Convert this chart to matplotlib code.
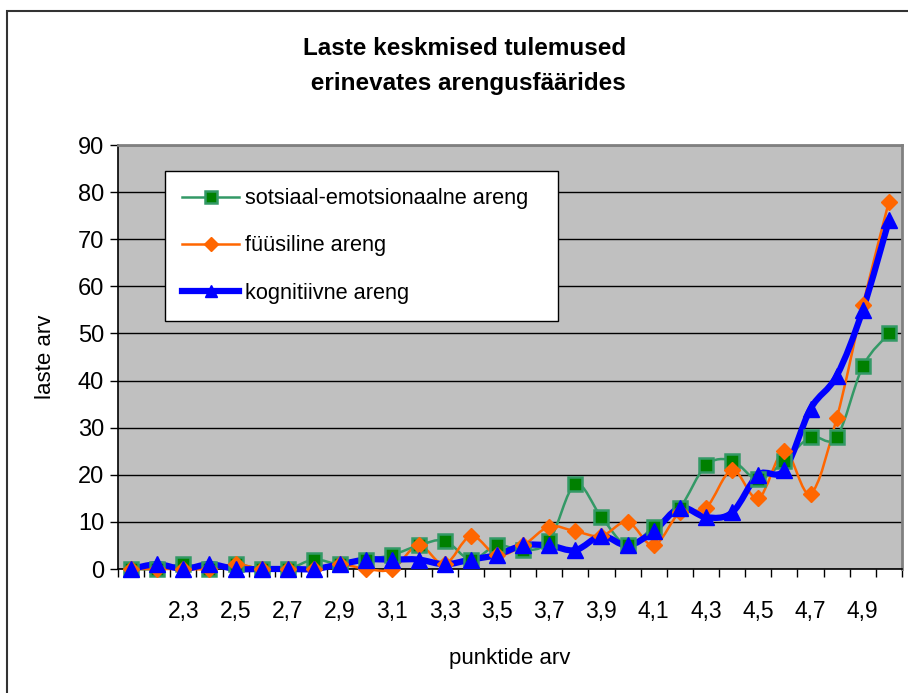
import matplotlib
matplotlib.use("Agg")
import matplotlib.pyplot as plt
import numpy as np
from matplotlib.path import Path
from matplotlib.patches import PathPatch, Rectangle
from matplotlib.lines import Line2D

plt.rcParams["font.family"] = ["Liberation Sans Narrow", "Liberation Sans", "DejaVu Sans"]

categories = ["2,1", "2,2", "2,3", "2,4", "2,5", "2,6", "2,7", "2,8", "2,9", "3,0",
              "3,1", "3,2", "3,3", "3,4", "3,5", "3,6", "3,7", "3,8", "3,9", "4,0",
              "4,1", "4,2", "4,3", "4,4", "4,5", "4,6", "4,7", "4,8", "4,9", "5,0"]
sotsiaal = [0, 0, 1, 0, 1, 0, 0, 2, 1, 2, 3, 5, 6, 2, 5, 4, 6, 18, 11, 5,
            9, 13, 22, 23, 19, 23, 28, 28, 43, 50]
fyysiline = [0, 0, 0, 0, 1, 0, 0, 0, 1, 0, 0, 5, 1, 7, 3, 5, 9, 8, 7, 10,
             5, 12, 13, 21, 15, 25, 16, 32, 56, 78]
kognitiivne = [0, 1, 0, 1, 0, 0, 0, 0, 1, 2, 2, 2, 1, 2, 3, 5, 5, 4, 7, 5,
               8, 13, 11, 12, 20, 21, 34, 41, 55, 74]
series_names = ["sotsiaal-emotsionaalne areng", "füüsiline areng", "kognitiivne areng"]
shown_labels = ["2,3", "2,5", "2,7", "2,9", "3,1", "3,3", "3,5", "3,7",
                "3,9", "4,1", "4,3", "4,5", "4,7", "4,9"]


def smooth_path(xs, ys):
    # Catmull-Rom style bezier, like Excel's smoothed line
    pts = np.column_stack([xs, ys]).astype(float)
    n = len(pts)
    verts = [pts[0]]
    codes = [Path.MOVETO]
    for i in range(n - 1):
        p0 = pts[i - 1] if i > 0 else pts[i]
        p1 = pts[i]
        p2 = pts[i + 1]
        p3 = pts[i + 2] if i + 2 < n else pts[i + 1]
        verts += [p1 + (p2 - p0) / 6, p2 - (p3 - p1) / 6, p2]
        codes += [Path.CURVE4] * 3
    return Path(verts, codes)


fig = plt.figure(figsize=(9.08, 6.93), dpi=100)
ax = fig.add_axes([118 / 908, 1 - 569 / 693, 784 / 908, 424 / 693])
ax.set_facecolor("#C0C0C0")

x = np.arange(len(categories))
styles = [
    dict(color="#339966", lw=1.8, marker="s", ms=9.5, mfc="#008000", mec="#339966", mew=1.8),
    dict(color="#FF6600", lw=1.8, marker="D", ms=8, mfc="#FF6600", mec="#FF6600", mew=1),
    dict(color="#0000FF", lw=4.5, marker="^", ms=11, mfc="#0000FF", mec="#0000FF", mew=1),
]
handles = []
for ys, st, name in zip([sotsiaal, fyysiline, kognitiivne], styles, series_names):
    ax.add_patch(PathPatch(smooth_path(x, ys), facecolor="none", edgecolor=st["color"],
                           lw=st["lw"], zorder=3, clip_on=False))
    ax.plot(x, ys, ls="none", marker=st["marker"], ms=st["ms"], mfc=st["mfc"],
            mec=st["mec"], mew=st["mew"], zorder=4, clip_on=False)
    handles.append(Line2D([], [], color=st["color"], lw=st["lw"], marker=st["marker"],
                          ms=st["ms"] * 0.85, mfc=st["mfc"], mec=st["mec"], mew=st["mew"]))

ax.set_xlim(-0.5, len(categories) - 0.5)
ax.set_ylim(0, 90)
ax.set_yticks(np.arange(0, 91, 10))
ax.yaxis.grid(True, color="black", lw=1)
ax.set_axisbelow(True)

label_pos = [categories.index(s) for s in shown_labels]
ax.set_xticks(label_pos)
ax.set_xticklabels(shown_labels)
ax.set_xticks(np.arange(-0.5, len(categories), 1), minor=True)
ax.tick_params(axis="x", which="major", length=0, pad=22, labelsize=16.5)
ax.tick_params(axis="x", which="minor", length=6, width=1, direction="out")
ax.tick_params(axis="y", length=6, width=1, pad=4, labelsize=17)

for side in ["top", "right"]:
    ax.spines[side].set_color("#808080")
    ax.spines[side].set_linewidth(2)
for side in ["left", "bottom"]:
    ax.spines[side].set_color("black")
    ax.spines[side].set_linewidth(1.2)

ax.set_ylabel("laste arv", fontsize=16, labelpad=16)
ax.set_xlabel("punktide arv", fontsize=16, labelpad=18)

fig.text(465 / 908, 1 - 66 / 693, "Laste keskmised tulemused\n erinevates arengusfäärides",
         ha="center", va="center", fontsize=17.5, fontweight="bold", linespacing=1.65)

leg = ax.legend(handles, series_names, loc="upper left",
                bbox_to_anchor=(47 / 784, (569 - 175) / 424, (558 - 165) / 784, 0.01),
                mode="expand", borderaxespad=0, fontsize=15.7, frameon=True, fancybox=False,
                framealpha=1, edgecolor="black", handlelength=2.6, labelspacing=1.2,
                borderpad=0.8, handletextpad=0.25)
leg.get_frame().set_linewidth(1)

fig.patches.append(Rectangle((7 / 908, -0.2), 1.2, 1.2 - 11 / 693, transform=fig.transFigure,
                             fill=False, edgecolor="#333333", lw=1.5))

fig.savefig("out.png", dpi=100)
